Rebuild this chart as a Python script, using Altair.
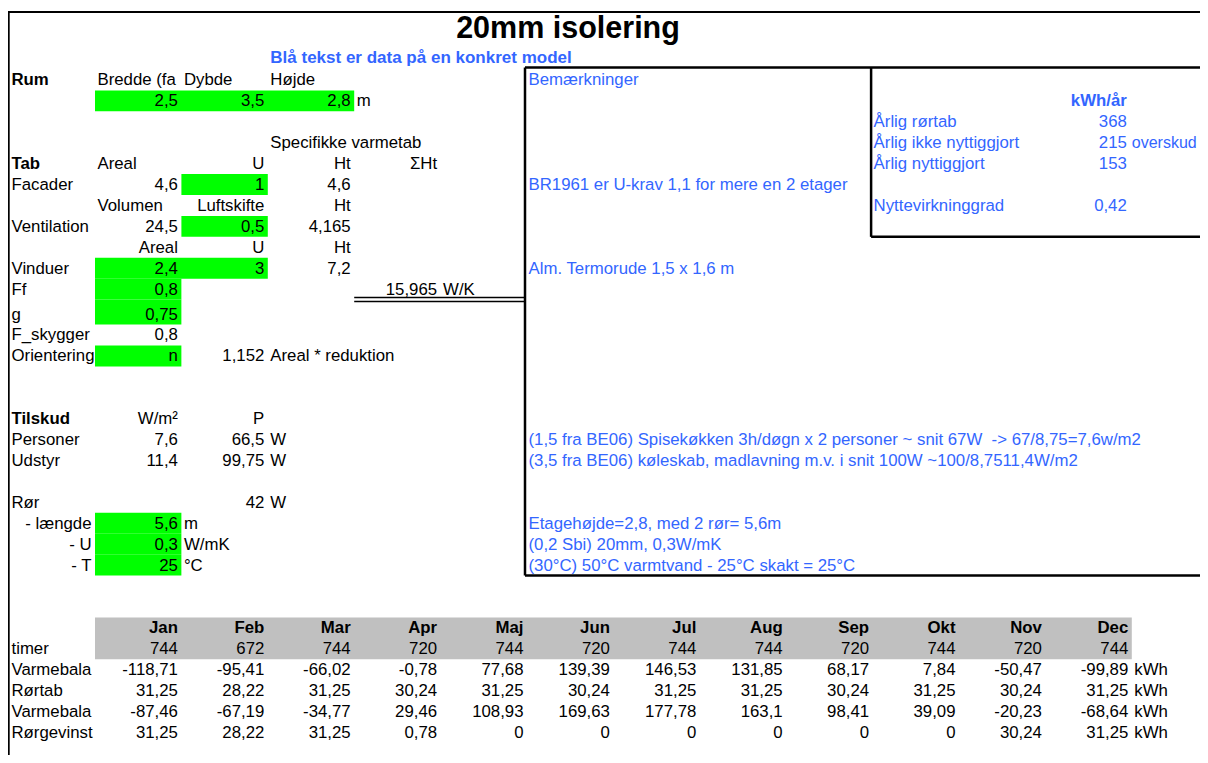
import altair as alt
import pandas as pd

# ---------------- data (read from the sheet) ----------------
TITLE = "20mm isolering"
SUBTITLE = "Blå tekst er data på en konkret model"

ROOM_HEADERS = ["Bredde (fa", "Dybde", "Højde"]
ROOM_DIMS = [2.5, 3.5, 2.8]

FACADE = [4.6, 1, 4.6]            # Areal, U, Ht
VENTILATION = [24.5, 0.5, 4.165]  # Volumen, Luftskifte, Ht
WINDOWS = [2.4, 3, 7.2]           # Areal, U, Ht
FF = 0.8
G_VALUE = 0.75
F_SKYGGER = 0.8
ORIENTATION = "n"
REDUCTION = 1.152
SUM_HT = 15.965

PERSONS = [7.6, 66.5]
EQUIPMENT = [11.4, 99.75]
PIPE_W = 42
PIPE_LENGTH = 5.6
PIPE_U = 0.3
PIPE_T = 25

ANNUAL_LABELS = ["Årlig rørtab", "Årlig ikke nyttiggjort", "Årlig nyttiggjort"]
ANNUAL_VALUES = [368, 215, 153]
EFFICIENCY = 0.42

REMARKS = [
    "Bemærkninger",
    "BR1961 er U-krav 1,1 for mere en 2 etager",
    "Alm. Termorude 1,5 x 1,6 m",
    "(1,5 fra BE06) Spisekøkken 3h/døgn x 2 personer ~ snit 67W \u00a0-> 67/8,75=7,6w/m2",
    "(3,5 fra BE06) køleskab, madlavning m.v. i snit 100W ~100/8,7511,4W/m2",
    "Etagehøjde=2,8, med 2 rør= 5,6m",
    "(0,2 Sbi) 20mm, 0,3W/mK",
    "(30°C) 50°C varmtvand - 25°C skakt = 25°C",
]
REMARK_ROWS = [0, 5, 9, 17, 18, 21, 22, 23]

MONTHS = ["Jan", "Feb", "Mar", "Apr", "Maj", "Jun", "Jul", "Aug", "Sep", "Okt", "Nov", "Dec"]
HOURS = [744, 672, 744, 720, 744, 720, 744, 744, 720, 744, 720, 744]
VARMEBALANCE_1 = [-118.71, -95.41, -66.02, -0.78, 77.68, 139.39, 146.53, 131.85, 68.17, 7.84, -50.47, -99.89]
ROERTAB = [31.25, 28.22, 31.25, 30.24, 31.25, 30.24, 31.25, 31.25, 30.24, 31.25, 30.24, 31.25]
VARMEBALANCE_2 = [-87.46, -67.19, -34.77, 29.46, 108.93, 169.63, 177.78, 163.1, 98.41, 39.09, -20.23, -68.64]
ROERGEVINST = [31.25, 28.22, 31.25, 0.78, 0, 0, 0, 0, 0, 0, 30.24, 31.25]
BOTTOM_LABELS = ["Varmebala", "Rørtab", "Varmebala", "Rørgevinst"]

# ---------------- layout (spreadsheet grid) ----------------
W, H = 1192, 747
OX, OY = 8, 8
FONT = "Liberation Sans"
FS = 16.8
BLUE = "#3366FF"
GREEN = "#00FF00"
GRAY = "#C0C0C0"
RIGHT_END = OX + W

COL_EDGE = [9] + [95 + 86.4 * k for k in range(13)] + [RIGHT_END]


def row_edge(r):
    return 69.5 + 20.92 * r + (4 if r >= 12 else 0)


def fmt(v):
    if isinstance(v, str):
        return v
    return f"{v:g}".replace(".", ",")


cells = []


def cell(r, c, text, align="right", bold=False, color="black", size=FS, dx=0.0):
    if align == "right":
        x = COL_EDGE[c + 1] - 3.5
    else:
        x = COL_EDGE[c] + 2.5
    cells.append(dict(x=x + dx, y=row_edge(r + 1) - 5, text=fmt(text), align=align,
                      bold=bold, color=color, size=size))


# Rum
cell(0, 0, "Rum", "left", True)
for i, h in enumerate(ROOM_HEADERS):
    cell(0, 1 + i, h, "left")
for i, v in enumerate(ROOM_DIMS):
    cell(1, 1 + i, v)
cell(1, 4, "m", "left")
# Tab
cell(3, 3, "Specifikke varmetab", "left")
cell(4, 0, "Tab", "left", True)
cell(4, 1, "Areal", "left")
cell(4, 2, "U")
cell(4, 3, "Ht")
cell(4, 4, "ΣHt")
cell(5, 0, "Facader", "left")
for i, v in enumerate(FACADE):
    cell(5, 1 + i, v)
cell(6, 1, "Volumen", "left")
cell(6, 2, "Luftskifte")
cell(6, 3, "Ht")
cell(7, 0, "Ventilation", "left")
for i, v in enumerate(VENTILATION):
    cell(7, 1 + i, v)
cell(8, 1, "Areal")
cell(8, 2, "U")
cell(8, 3, "Ht")
cell(9, 0, "Vinduer", "left")
for i, v in enumerate(WINDOWS):
    cell(9, 1 + i, v)
cell(10, 0, "Ff", "left")
cell(10, 1, FF)
cell(10, 4, SUM_HT)
cell(10, 5, "W/K", "left")
cell(11, 0, "g", "left")
cell(11, 1, G_VALUE)
cell(12, 0, "F_skygger", "left")
cell(12, 1, F_SKYGGER)
cell(13, 0, "Orientering", "left")
cell(13, 1, ORIENTATION)
cell(13, 2, REDUCTION)
cell(13, 3, "Areal * reduktion", "left")
# Tilskud
cell(16, 0, "Tilskud", "left", True)
cell(16, 1, "W/m²")
cell(16, 2, "P")
cell(17, 0, "Personer", "left")
cell(17, 1, PERSONS[0])
cell(17, 2, PERSONS[1])
cell(17, 3, "W", "left")
cell(18, 0, "Udstyr", "left")
cell(18, 1, EQUIPMENT[0])
cell(18, 2, EQUIPMENT[1])
cell(18, 3, "W", "left")
cell(20, 0, "Rør", "left")
cell(20, 2, PIPE_W)
cell(20, 3, "W", "left")
cell(21, 0, "- længde")
cell(21, 1, PIPE_LENGTH)
cell(21, 2, "m", "left")
cell(22, 0, "- U")
cell(22, 1, PIPE_U)
cell(22, 2, "W/mK", "left")
cell(23, 0, "- T")
cell(23, 1, PIPE_T)
cell(23, 2, "°C", "left")
# remarks
for r, t in zip(REMARK_ROWS, REMARKS):
    cell(r, 6, t, "left", color=BLUE, dx=-1)
# annual panel
cell(1, 12, "kWh/år", bold=True, color=BLUE, dx=-1.5)
for i, (lab, v) in enumerate(zip(ANNUAL_LABELS, ANNUAL_VALUES)):
    cell(2 + i, 10, lab, "left", color=BLUE, dx=-1.5)
    cell(2 + i, 12, v, color=BLUE, dx=-1.5)
cell(3, 13, "overskud", "left", color=BLUE, size=16, dx=-2.5)
cell(6, 10, "Nyttevirkninggrad", "left", color=BLUE, dx=-1.5)
cell(6, 12, EFFICIENCY, color=BLUE, dx=-1.5)
# monthly table
for i, m in enumerate(MONTHS):
    cell(26, 1 + i, m, bold=True)
cell(27, 0, "timer", "left")
for i, h in enumerate(HOURS):
    cell(27, 1 + i, h)
for k, (lab, series) in enumerate(zip(BOTTOM_LABELS,
                                      [VARMEBALANCE_1, ROERTAB, VARMEBALANCE_2, ROERGEVINST])):
    cell(28 + k, 0, lab, "left")
    for i, v in enumerate(series):
        cell(28 + k, 1 + i, v)
    cell(28 + k, 13, "kWh", "left")

cells_df = pd.DataFrame(cells)

# fills
fills = []
for r, c0, c1, col in [(1, 1, 3, GREEN), (5, 2, 2, GREEN), (7, 2, 2, GREEN), (9, 1, 2, GREEN),
                       (10, 1, 1, GREEN), (11, 1, 1, GREEN), (13, 1, 1, GREEN),
                       (21, 1, 1, GREEN), (22, 1, 1, GREEN), (23, 1, 1, GREEN)]:
    fills.append(dict(x=COL_EDGE[c0], x2=COL_EDGE[c1 + 1], y=row_edge(r), y2=row_edge(r + 1), color=col))
fills.append(dict(x=COL_EDGE[1], x2=COL_EDGE[13], y=row_edge(26), y2=row_edge(28), color=GRAY))
fills_df = pd.DataFrame(fills)

# borders
gx = COL_EDGE[6] - 2
px = COL_EDGE[10] - 1.5
top = row_edge(0) - 2
lines = [
    dict(x=8, x2=RIGHT_END, y=12, y2=12, w=2),
    dict(x=8.8, x2=8.8, y=11, y2=OY + H, w=1.8),
    dict(x=gx, x2=RIGHT_END, y=top, y2=top, w=2.5),
    dict(x=gx, x2=gx, y=top, y2=row_edge(24), w=2.5),
    dict(x=gx, x2=RIGHT_END, y=row_edge(24), y2=row_edge(24), w=2.5),
    dict(x=px, x2=px, y=top, y2=row_edge(8), w=2.5),
    dict(x=px, x2=RIGHT_END, y=row_edge(8), y2=row_edge(8), w=2.5),
    dict(x=COL_EDGE[4], x2=gx, y=row_edge(11) - 2, y2=row_edge(11) - 2, w=1.5),
    dict(x=COL_EDGE[4], x2=gx, y=row_edge(11) + 2, y2=row_edge(11) + 2, w=1.5),
]
lines_df = pd.DataFrame(lines)

xs = alt.Scale(domain=[OX, OX + W], range=[0, W], nice=False, zero=False)
ys = alt.Scale(domain=[OY, OY + H], range=[0, H], nice=False, zero=False)

rects = alt.Chart(fills_df).mark_rect().encode(
    x=alt.X("x:Q", scale=xs, axis=None), x2="x2:Q",
    y=alt.Y("y:Q", scale=ys, axis=None), y2="y2:Q",
    color=alt.Color("color:N", scale=None),
)

rules = alt.Chart(lines_df).mark_rule(color="black").encode(
    x=alt.X("x:Q", scale=xs, axis=None), x2="x2:Q",
    y=alt.Y("y:Q", scale=ys, axis=None), y2="y2:Q",
    strokeWidth=alt.StrokeWidth("w:Q", scale=None),
)

layers = [rects, rules]
for align in ["left", "right"]:
    for bold in [False, True]:
        sub = cells_df[(cells_df["align"] == align) & (cells_df["bold"] == bold)]
        if len(sub) == 0:
            continue
        layers.append(
            alt.Chart(sub).mark_text(align=align, baseline="alphabetic", font=FONT,
                                     fontWeight="bold" if bold else "normal").encode(
                x=alt.X("x:Q", scale=xs, axis=None),
                y=alt.Y("y:Q", scale=ys, axis=None),
                text="text:N",
                color=alt.Color("color:N", scale=None),
                size=alt.Size("size:Q", scale=None),
            )
        )

titles_df = pd.DataFrame([
    dict(x=568, y=38, text=TITLE, color="black", size=30.5),
    dict(x=421, y=62.5, text=SUBTITLE, color=BLUE, size=17),
])
layers.append(
    alt.Chart(titles_df).mark_text(align="center", baseline="alphabetic", font=FONT,
                                   fontWeight="bold").encode(
        x=alt.X("x:Q", scale=xs, axis=None),
        y=alt.Y("y:Q", scale=ys, axis=None),
        text="text:N",
        color=alt.Color("color:N", scale=None),
        size=alt.Size("size:Q", scale=None),
    )
)

chart = alt.layer(*layers).properties(
    width=W, height=H, padding=0, autosize="none"
).configure_view(stroke=None)

chart.save("out.html", embed_options={"renderer": "svg", "actions": False})
